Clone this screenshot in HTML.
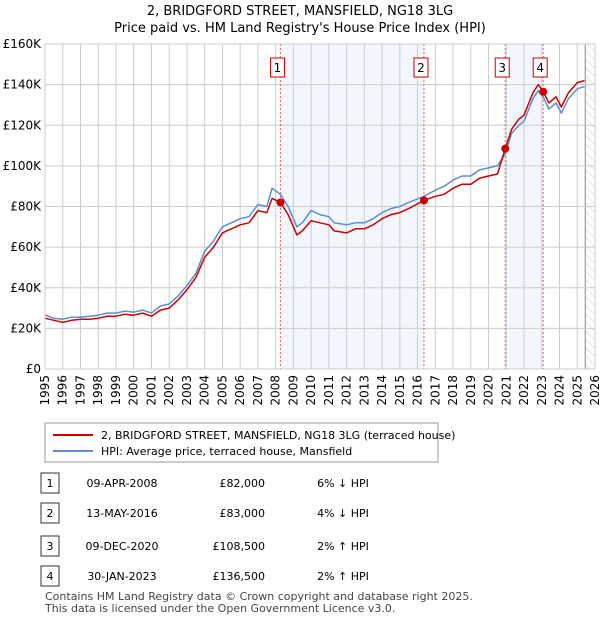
<!DOCTYPE html>
<html><head><meta charset="utf-8"><style>
body{margin:0;background:#fff;font-family:"Liberation Sans","DejaVu Sans",sans-serif;}
svg text{font-family:"DejaVu Sans","Liberation Sans",sans-serif;}
</style></head><body>
<svg id="chart" width="600" height="620" viewBox="0 0 600 620" xmlns="http://www.w3.org/2000/svg">
<defs><pattern id="hatch" width="6" height="6" patternUnits="userSpaceOnUse" patternTransform="rotate(-45)"><line x1="0" y1="0" x2="0" y2="6" stroke="#ccc" stroke-width="1"/></pattern></defs>
<text x="300" y="15" font-size="13" text-anchor="middle">2, BRIDGFORD STREET, MANSFIELD, NG18 3LG</text>
<text x="300" y="32" font-size="13" text-anchor="middle">Price paid vs. HM Land Registry's House Price Index (HPI)</text>
<g id="plot"></g>
<rect x="45" y="423" width="393" height="39" fill="#fff" stroke="#999"/>
<line x1="53" y1="435" x2="93" y2="435" stroke="#cc0000" stroke-width="2"/>
<text x="101" y="439" font-size="11">2, BRIDGFORD STREET, MANSFIELD, NG18 3LG (terraced house)</text>
<line x1="53" y1="451" x2="93" y2="451" stroke="#5b8fd0" stroke-width="2"/>
<text x="101" y="455" font-size="11">HPI: Average price, terraced house, Mansfield</text>
<g id="table" font-size="11"></g>
<text x="45" y="600" font-size="11" fill="#444">Contains HM Land Registry data © Crown copyright and database right 2025.</text>
<text x="45" y="612" font-size="11" fill="#444">This data is licensed under the Open Government Licence v3.0.</text>
</svg>
<script>
const hpiYears=[1995,1995.5,1996,1996.5,1997,1997.5,1998,1998.5,1999,1999.5,2000,2000.5,2001,2001.5,2002,2002.5,2003,2003.5,2004,2004.5,2005,2005.5,2006,2006.5,2007,2007.5,2007.8,2008.27,2008.7,2009.2,2009.5,2010,2010.5,2011,2011.3,2012,2012.5,2013,2013.5,2014,2014.5,2015,2015.5,2016.36,2017,2017.5,2018,2018.5,2019,2019.5,2020,2020.5,2020.94,2021.3,2021.7,2022,2022.5,2022.8,2023.08,2023.4,2023.8,2024.1,2024.5,2025,2025.4];
const hpiValues=[26.6,25,24.5,25.5,25.5,26,26.5,27.5,27.5,28.5,28,29,27.5,31,32,36,41,47,58,63,70,72,74,75,81,80,89,86,80,70,72,78,76,75,72,71,72,72,74,77,79,80,82,85,88,90,93,95,95,98,99,100,106,116,120,122,133,137,134,128,131,126,133,138,139];
const redValues=[25,24,23,24,24.5,24.5,25,26,26,27,26.5,27.5,26,29,30,34,39,45,55,60,67,69,71,72,78,77,84,82,76,66,68,73,72,71,68,67,69,69,71,74,76,77,79,83,85,86,89,91,91,94,95,96,108.5,118,123,125,136,140,136.5,131,134,129,136,141,142];
const saleYears=[2008.27,2016.36,2020.94,2023.08];
const salePrices=[82000,83000,108500,136500];
const saleLabels=["1","2","3","4"];
const saleDates=["09-APR-2008","13-MAY-2016","09-DEC-2020","30-JAN-2023"];
const salePriceText=["£82,000","£83,000","£108,500","£136,500"];
const saleHpiText=["6% ↓ HPI","4% ↓ HPI","2% ↑ HPI","2% ↑ HPI"];
const yTicks=[0,20000,40000,60000,80000,100000,120000,140000,160000];
const yTickLabels=["£0","£20K","£40K","£60K","£80K","£100K","£120K","£140K","£160K"];
const xTicks=[1995,1996,1997,1998,1999,2000,2001,2002,2003,2004,2005,2006,2007,2008,2009,2010,2011,2012,2013,2014,2015,2016,2017,2018,2019,2020,2021,2022,2023,2024,2025,2026];
const hatchStart=2025.45;
const NS="http://www.w3.org/2000/svg";
const L=45,R=595,T=44,B=369;
const xs=y=>L+(y-1995)/(2026-1995)*(R-L);
const ys=v=>B-v/160000*(B-T);
const plot=document.getElementById('plot');
function mk(tag,attrs,parent){const e=document.createElementNS(NS,tag);for(const k in attrs)e.setAttribute(k,attrs[k]);(parent||plot).appendChild(e);return e;}
let e;
e=mk('rect',{x:L,y:T,width:R-L,height:B-T,fill:'#fff'});


e=mk('rect',{x:xs(saleYears[0]),y:T,width:xs(saleYears[1])-xs(saleYears[0]),height:B-T,fill:'#eef3fc',opacity:0.7});


e=mk('rect',{x:xs(saleYears[2]),y:T,width:xs(saleYears[3])-xs(saleYears[2]),height:B-T,fill:'#eef3fc',opacity:0.7});


e=mk('rect',{x:xs(hatchStart),y:T,width:R-xs(hatchStart),height:B-T,fill:'url(#hatch)'});


mk('line',{x1:xs(hatchStart),y1:T,x2:xs(hatchStart),y2:B,stroke:'#888','stroke-width':1});
xTicks.forEach((t,i)=>{
 const l=mk('line',{x1:xs(t),y1:T,x2:xs(t),y2:B,stroke:'#ccc','stroke-width':1});
 
 
 const tx=mk('text',{x:0,y:0,'font-size':12,'text-anchor':'end',transform:'translate('+(xs(t)+4).toFixed(1)+','+(B+6)+') rotate(-90)'});tx.textContent=t;
 
 
});
yTicks.forEach((t,i)=>{
 const l=mk('line',{x1:L,y1:ys(t),x2:R,y2:ys(t),stroke:'#ccc','stroke-width':1});
 
 
 const tx=mk('text',{x:L-4,y:ys(t)+4,'font-size':12,'text-anchor':'end'});tx.textContent=yTickLabels[i];
 
 
});
saleYears.forEach((s,i)=>{
 const l=mk('line',{x1:xs(s),y1:T,x2:xs(s),y2:B,stroke:'#e06060','stroke-width':1,'stroke-dasharray':'2,2'});
 
 
});
function line(vals,color,name){
 const d=hpiYears.map((y,i)=>(i?'L':'M')+xs(y).toFixed(1)+','+ys(vals[i]*1000).toFixed(1)).join('');
 const p=mk('path',{d:d,fill:'none',stroke:color,'stroke-width':1.5,'stroke-linejoin':'round'});
 
 
}
line(hpiValues,'#5b8fd0','hpi-line');
line(redValues,'#cc0000','property-line');
saleYears.forEach((s,i)=>{
 const c=mk('circle',{cx:xs(s),cy:ys(salePrices[i]),r:4,fill:'#cc0000'});
 
 
 const bx=xs(s)-3;
 const r=mk('rect',{x:bx-7,y:58,width:14,height:19,fill:'#fff',stroke:'#cc0000'});
 
 
 const t=mk('text',{x:bx,y:72,'font-size':12,'text-anchor':'middle'});t.textContent=saleLabels[i];
 
 
});
mk('rect',{x:L,y:T,width:R-L,height:B-T,fill:'none',stroke:'#ccc'});
const tbl=document.getElementById('table');
const rowY=[483,513,546,576];
saleLabels.forEach((lab,i)=>{
 const y=rowY[i];
 const r=mk('rect',{x:41,y:y-10,width:18,height:20,fill:'#fff',stroke:'#333'},tbl);
 
 
 const cells=[[50,lab,'middle'],[122,saleDates[i],'middle'],[265,salePriceText[i],'end'],[343,saleHpiText[i],'middle']];
 cells.forEach(c=>{const t=mk('text',{x:c[0],y:y+4,'text-anchor':c[2]},tbl);t.textContent=c[1];
 
 });
});
</script>
</body></html>
